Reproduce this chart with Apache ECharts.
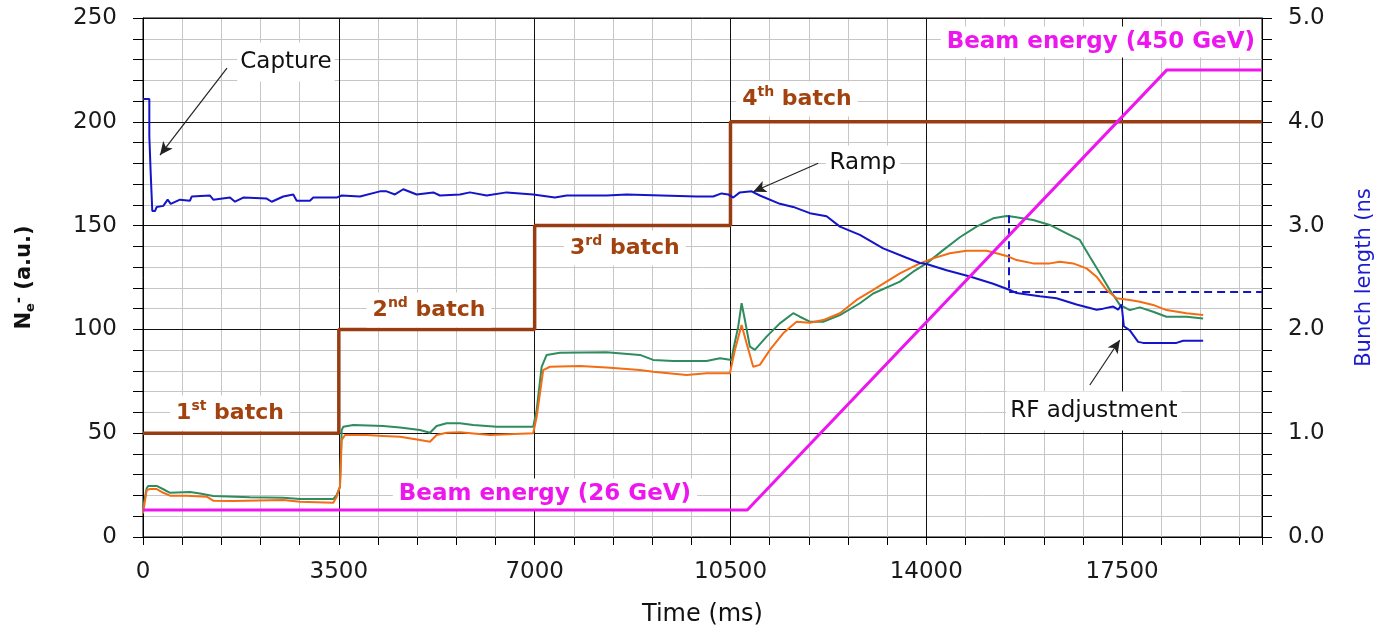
<!DOCTYPE html>
<html>
<head>
<meta charset="utf-8">
<script src="https://cdn.jsdelivr.net/npm/echarts@6/dist/echarts.min.js"></script>
<style>
  html, body { margin: 0; padding: 0; background: #fff; }
  #chart { width: 1381px; height: 629px; }
</style>
</head>
<body>
<div id="chart"></div>
<script>
// ---- Time axis (ms) ----
const timeMax = 20000;
const timeMajorStep = 3500;
const timeMinorStep = 700;

// ---- Electron cloud signal, detector 1 (green, a.u.) ----
const greenTime = [0, 66, 95, 245, 363, 483, 840, 1019, 1256, 1912, 2507, 2806, 3401, 3461, 3520, 3551, 3580, 3758, 4294, 4593, 4950, 5129, 5248, 5427, 5665, 5903, 6321, 6975, 7036, 7125, 7214, 7452, 8286, 8881, 9119, 9477, 10073, 10311, 10520, 10549, 10638, 10699, 10758, 10847, 10936, 11145, 11383, 11621, 11740, 11919, 12157, 12456, 12813, 13051, 13528, 13765, 14005, 14301, 14600, 14898, 15195, 15435, 15553, 15910, 16208, 16507, 16744, 16923, 17102, 17281, 17459, 17638, 17817, 18054, 18293, 18651, 18948];
const greenNe = [13.8, 23.5, 24.6, 24.6, 23.0, 21.3, 21.7, 21.0, 19.7, 19.1, 18.9, 18.3, 18.3, 20.2, 24.2, 51.5, 53.1, 53.9, 53.5, 52.8, 51.5, 50.2, 53.5, 54.8, 54.8, 53.9, 53.1, 53.1, 61.2, 82.0, 87.7, 88.8, 89.0, 87.7, 85.3, 84.8, 84.8, 86.1, 85.3, 90.1, 101.3, 112.6, 104.5, 91.7, 90.1, 96.5, 102.9, 107.8, 106.1, 103.7, 103.7, 106.9, 112.6, 117.3, 123.0, 127.8, 131.8, 138.2, 144.4, 149.5, 153.5, 154.6, 154.3, 152.7, 150.3, 146.3, 143.1, 135.0, 127.0, 119.0, 111.8, 109.3, 110.6, 108.5, 106.1, 106.1, 105.3];

// ---- Electron cloud signal, detector 2 (orange, a.u.) ----
const orangeTime = [0, 66, 125, 245, 363, 483, 781, 1138, 1256, 1614, 2507, 2806, 3401, 3461, 3520, 3551, 3610, 3998, 4294, 4593, 4950, 5129, 5248, 5427, 5665, 6201, 6975, 7036, 7153, 7273, 7809, 8286, 8881, 9119, 9716, 10073, 10490, 10579, 10699, 10788, 10906, 11025, 11204, 11442, 11681, 11919, 12157, 12456, 12754, 13051, 13528, 13885, 14123, 14421, 14719, 15076, 15255, 15435, 15613, 15910, 16208, 16387, 16625, 16864, 17043, 17221, 17400, 17638, 17817, 18054, 18293, 18651, 18948];
const orangeNe = [11.4, 22.6, 23.1, 23.1, 21.3, 19.9, 19.9, 19.4, 17.5, 17.3, 17.8, 17.0, 16.5, 19.4, 24.2, 46.7, 49.1, 49.1, 48.7, 48.3, 46.7, 45.9, 49.1, 50.2, 50.4, 49.1, 50.0, 57.9, 80.4, 82.0, 82.4, 81.6, 80.4, 79.6, 78.0, 78.9, 78.9, 90.1, 102.1, 93.3, 82.0, 82.9, 90.1, 98.1, 103.7, 103.2, 104.5, 107.8, 114.2, 119.0, 127.0, 131.8, 134.2, 136.7, 137.9, 137.9, 136.7, 135.4, 133.4, 131.8, 131.8, 132.6, 131.8, 129.4, 125.4, 119.0, 115.0, 114.2, 113.3, 111.8, 109.3, 107.8, 106.9];

// ---- Bunch length (ns, right axis) ----
const bunchTime = [0, 113, 113, 138, 138, 166, 166, 214, 245, 363, 441, 495, 661, 840, 870, 1197, 1256, 1555, 1644, 1792, 2211, 2300, 2507, 2686, 2747, 2984, 3043, 3461, 3551, 3878, 4235, 4355, 4503, 4652, 4891, 5188, 5307, 5665, 5843, 6142, 6499, 6975, 7362, 7572, 8286, 8644, 9895, 10191, 10341, 10459, 10549, 10668, 10877, 11025, 11383, 11621, 11919, 12218, 12456, 12813, 13229, 13647, 13885, 14005, 14362, 14779, 15195, 15493, 15613, 16029, 16328, 16685, 17043, 17161, 17340, 17429, 17490, 17531, 17638, 17786, 17876, 18233, 18472, 18591, 18948];
const bunchLength = [4.22, 4.22, 3.86, 3.86, 3.50, 3.50, 3.14, 3.14, 3.18, 3.19, 3.25, 3.21, 3.25, 3.24, 3.28, 3.29, 3.25, 3.27, 3.23, 3.27, 3.26, 3.23, 3.28, 3.30, 3.24, 3.24, 3.27, 3.27, 3.29, 3.28, 3.33, 3.33, 3.30, 3.35, 3.30, 3.32, 3.29, 3.30, 3.32, 3.29, 3.32, 3.30, 3.27, 3.29, 3.29, 3.30, 3.28, 3.28, 3.31, 3.30, 3.27, 3.32, 3.33, 3.29, 3.21, 3.18, 3.12, 3.09, 2.99, 2.91, 2.78, 2.69, 2.64, 2.63, 2.57, 2.51, 2.44, 2.38, 2.35, 2.32, 2.30, 2.24, 2.19, 2.20, 2.22, 2.19, 2.24, 2.03, 1.99, 1.88, 1.87, 1.87, 1.87, 1.89, 1.89];

// Bunch length reference cut at the signal maximum (ns)
const cutTime = 15480;
const cutTop = 3.10;
const cutLevel = 2.36;

// ---- Injected batches (step level, a.u.) ----
const batchTime = [0, 3500, 3500, 7000, 7000, 10500, 10500, 20000];
const batchLevel = [50, 50, 100, 100, 150, 150, 200, 200];

// ---- Beam energy (GeV) ----
const energyTime = [0, 10800, 18300, 20000];
const energyGeV = [26, 26, 450, 450];

// ---- Tick labels ----
const leftTicks = [0, 50, 100, 150, 200, 250];
const rightTicks = [0, 1, 2, 3, 4, 5];

const zip = (xs, ys) => xs.map((x, i) => [x, ys[i]]);

const FONT = 'DejaVu Sans';
const BROWN = '#9a3c12';
const BROWN_TEXT = '#a2420f';
const MAGENTA = '#ee16ee';
const BLUE = '#1414c8';
const GREEN = '#2e8c5e';
const ORANGE = '#f46c14';
const MINOR = '#c6c6c6';

const batchRich = {
  n: { fontFamily: FONT, fontSize: 22, fontWeight: 'bold', color: BROWN_TEXT, lineHeight: 27 },
  s: { fontFamily: FONT, fontSize: 14, fontWeight: 'bold', color: BROWN_TEXT, lineHeight: 15, verticalAlign: 'top' }
};

function note(coord, text, extra) {
  return {
    coord: coord,
    symbol: 'rect',
    symbolSize: 1,
    itemStyle: { color: 'rgba(0,0,0,0)' },
    label: Object.assign({
      show: true,
      position: 'inside',
      formatter: text,
      fontFamily: FONT,
      fontSize: 23,
      color: '#111',
      backgroundColor: '#fff',
      padding: [6, 5]
    }, extra || {})
  };
}

function batchNote(coord, num, suffix) {
  return note(coord, '{n|' + num + '}{s|' + suffix + '}{n| batch}', {
    rich: batchRich, padding: [4, 6]
  });
}

function energyNote(coord, text) {
  return note(coord, text, {
    fontWeight: 'bold', color: MAGENTA, fontSize: 23, padding: [4, 6]
  });
}

// pointer from a note towards the feature it describes
function pointer(from, to) {
  return [
    { coord: from, symbol: 'none' },
    { coord: to, symbol: 'arrow', symbolSize: [9, 13] }
  ];
}

const chart = echarts.init(document.getElementById('chart'), null, { renderer: 'canvas' });

const option = {
  animation: false,
  backgroundColor: '#fff',
  grid: {
    left: 143, right: 119, top: 18, bottom: 92,
    outerBoundsMode: 'none',
    containLabel: false,
    show: true, borderColor: '#000', borderWidth: 1, backgroundColor: '#fff'
  },
  xAxis: [
    {
      type: 'value', min: 0, max: timeMax, interval: timeMajorStep,
      position: 'bottom', z: 3,
      axisLine: { onZero: false, lineStyle: { color: '#000', width: 1 } },
      axisTick: { show: false },
      axisLabel: {
        margin: 24, fontFamily: FONT, fontSize: 23, color: '#1a1a1a',
        formatter: v => (v % timeMajorStep === 0 ? String(v) : '')
      },
      splitLine: { show: true, lineStyle: { color: '#111', width: 1 } },
      name: 'Time (ms)', nameLocation: 'middle', nameGap: 66,
      nameTextStyle: { fontFamily: FONT, fontSize: 24, color: '#111' }
    },
    {
      type: 'value', min: 0, max: timeMax, interval: timeMinorStep,
      position: 'bottom', z: 1,
      axisLine: { show: false, onZero: false },
      axisTick: { show: true, length: 8, lineStyle: { color: '#000' } },
      axisLabel: { show: false },
      splitLine: { show: true, lineStyle: { color: MINOR, width: 1 } }
    }
  ],
  yAxis: [
    {
      type: 'value', min: leftTicks[0], max: leftTicks[leftTicks.length - 1], interval: 50,
      position: 'left', z: 3,
      axisLine: { show: true, onZero: false, lineStyle: { color: '#000' } },
      axisTick: { show: true, length: 10, lineStyle: { color: '#000' } },
      minorTick: { show: true, splitNumber: 5, length: 10, lineStyle: { color: '#000' } },
      minorSplitLine: { show: true, lineStyle: { color: MINOR, width: 1 } },
      splitLine: { show: true, lineStyle: { color: '#111', width: 1 } },
      axisLabel: { margin: 26, fontFamily: FONT, fontSize: 23, color: '#1a1a1a' },
      name: '{b|N}{sub|e}{sup|-}{b| (a.u.)}',
      nameLocation: 'middle', nameRotate: 90, nameGap: 106,
      nameTextStyle: {
        rich: {
          b: { fontFamily: FONT, fontSize: 21, fontWeight: 'bold', color: '#111', lineHeight: 25 },
          sub: { fontFamily: FONT, fontSize: 13, fontWeight: 'bold', color: '#111', lineHeight: 13, verticalAlign: 'bottom' },
          sup: { fontFamily: FONT, fontSize: 15, fontWeight: 'bold', color: '#111', lineHeight: 15, verticalAlign: 'top' }
        }
      }
    },
    {
      type: 'value', min: rightTicks[0], max: rightTicks[rightTicks.length - 1], interval: 1,
      position: 'right', z: 3,
      axisLine: { show: true, onZero: false, lineStyle: { color: '#000' } },
      axisTick: { show: true, length: 10, lineStyle: { color: '#000' } },
      minorTick: { show: true, splitNumber: 5, length: 10, lineStyle: { color: '#000' } },
      splitLine: { show: false },
      axisLabel: {
        margin: 26, fontFamily: FONT, fontSize: 23, color: '#1a1a1a',
        formatter: v => v.toFixed(1)
      },
      name: 'Bunch length (ns',
      nameLocation: 'middle', nameRotate: 90, nameGap: 92,
      nameTextStyle: { fontFamily: FONT, fontSize: 21, color: '#1b1bd0' }
    },
    {
      // beam energy scale, 0-500 GeV over the full plot height
      type: 'value', min: 0, max: 500, show: false
    }
  ],
  series: [
    {
      name: 'Batches', type: 'line', xAxisIndex: 0, yAxisIndex: 0,
      data: zip(batchTime, batchLevel),
      showSymbol: false, symbol: 'none', z: 3,
      lineStyle: { color: BROWN, width: 3.5 },
      markPoint: {
        silent: true,
        data: [
          batchNote([1555, 59.7], '1', 'st'),
          batchNote([5111, 109.3], '2', 'nd'),
          batchNote([8613, 139.2], '3', 'rd'),
          batchNote([11687, 211], '4', 'th'),
          note([2555, 228.8], 'Capture', { padding: [8, 3] }),
          note([12866, 180.2], 'Ramp', { padding: [6, 4] }),
          note([16994, 60.7], 'RF adjustment', { padding: [8, 4] }),
          energyNote([7184, 20.7], 'Beam energy (26 GeV)'),
          energyNote([17120, 238.4], 'Beam energy (450 GeV)')
        ]
      },
      markLine: {
        silent: true,
        symbol: ['none', 'arrow'],
        symbolSize: 12,
        label: { show: false },
        itemStyle: { color: '#222' },
        lineStyle: { color: '#222', width: 1.2, type: 'solid' },
        data: [
          pointer([1501, 225.9], [304, 184.0]),
          pointer([12068, 180.0], [10906, 166.3]),
          pointer([16923, 73.2], [17459, 94.9])
        ]
      }
    },
    {
      name: 'Ne green', type: 'line', xAxisIndex: 0, yAxisIndex: 0,
      data: zip(greenTime, greenNe),
      showSymbol: false, symbol: 'none', z: 4,
      lineStyle: { color: GREEN, width: 2 }
    },
    {
      name: 'Ne orange', type: 'line', xAxisIndex: 0, yAxisIndex: 0,
      data: zip(orangeTime, orangeNe),
      showSymbol: false, symbol: 'none', z: 5,
      lineStyle: { color: ORANGE, width: 2 }
    },
    {
      name: 'Bunch length', type: 'line', xAxisIndex: 0, yAxisIndex: 1,
      data: zip(bunchTime, bunchLength),
      showSymbol: false, symbol: 'none', z: 6,
      lineStyle: { color: BLUE, width: 2 },
      markLine: {
        silent: true,
        symbol: 'none',
        label: { show: false },
        lineStyle: { color: BLUE, width: 2, type: [8, 5] },
        data: [
          [{ coord: [cutTime, cutTop] }, { coord: [cutTime, cutLevel] }],
          [{ coord: [cutTime, cutLevel] }, { coord: [timeMax, cutLevel] }]
        ]
      }
    },
    {
      name: 'Beam energy', type: 'line', xAxisIndex: 0, yAxisIndex: 2,
      data: zip(energyTime, energyGeV),
      showSymbol: false, symbol: 'none', z: 7,
      lineStyle: { color: MAGENTA, width: 3 }
    }
  ]
};

chart.setOption(option);
</script>
</body>
</html>
